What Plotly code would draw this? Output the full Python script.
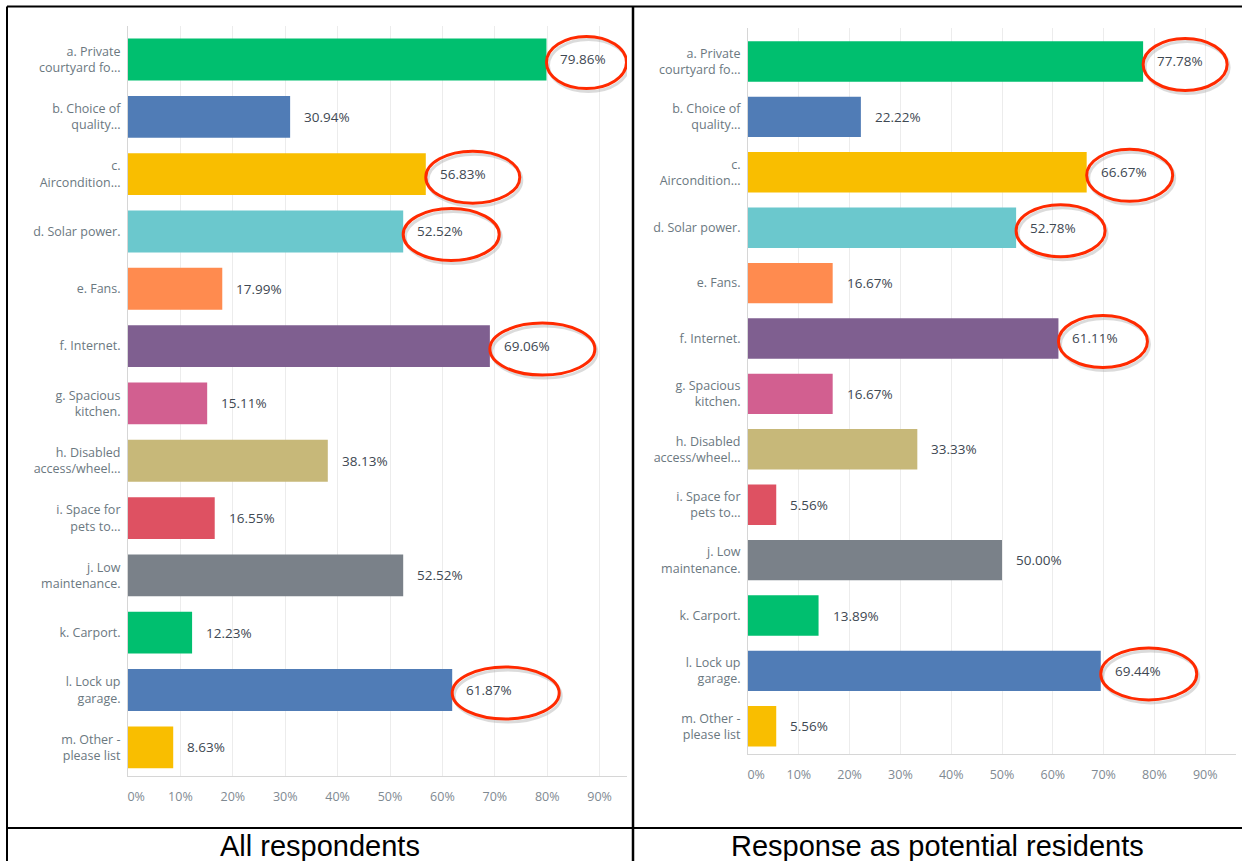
import plotly.graph_objects as go

W, H = 1242, 861

categories = [
    "a. Private<br>courtyard fo...",
    "b. Choice of<br>quality...",
    "c.<br>Aircondition...",
    "d. Solar power.",
    "e. Fans.",
    "f. Internet.",
    "g. Spacious<br>kitchen.",
    "h. Disabled<br>access/wheel...",
    "i. Space for<br>pets to...",
    "j. Low<br>maintenance.",
    "k. Carport.",
    "l. Lock up<br>garage.",
    "m. Other -<br>please list",
]
all_respondents = [79.86, 30.94, 56.83, 52.52, 17.99, 69.06, 15.11, 38.13, 16.55, 52.52, 12.23, 61.87, 8.63]
potential_residents = [77.78, 22.22, 66.67, 52.78, 16.67, 61.11, 16.67, 33.33, 5.56, 50.00, 13.89, 69.44, 5.56]
highlighted = [0, 2, 3, 5, 11]  # answers circled in red
tick_values = [0, 10, 20, 30, 40, 50, 60, 70, 80, 90]
tick_labels = ["\u00a0\u00a0\u00a0\u00a0\u00a00%", "10%", "20%", "30%", "40%", "50%", "60%", "70%", "80%", "90%"]
captions = ["All respondents", "Response as potential residents"]

bar_colors = ["#00BF6F", "#507CB6", "#F9BE00", "#6BC8CD", "#FF8B4F", "#7F5F90", "#D25F90",
              "#C7B879", "#DE5162", "#7A8189", "#00BF6F", "#507CB6", "#F9BE00"]

FONT = "Open Sans"


def px(x):
    return x / W


def py(y):
    return 1 - y / H


# panel geometry in pixels: plot left/right, top/bottom, x range max, ellipse widths
panels = [
    dict(x0=128, x1=627, y0=26, y1=776, xmax=(627 - 128) / 5.24, ell=[80, 94, 96, 105, 107],
         values=all_respondents, xa="x", ya="y", cap_x=320),
    dict(x0=748, x1=1236, y0=28, y1=754, xmax=(1236 - 748) / 5.08, ell=[84, 86, 89, 89, 96],
         values=potential_residents, xa="x2", ya="y2", cap_x=937),
]

fig = go.Figure()
shapes = []
annotations = []

for i, p in enumerate(panels):
    fig.add_trace(go.Bar(
        x=p["values"], y=categories, orientation="h",
        marker=dict(color=bar_colors, line=dict(width=0)),
        xaxis=p["xa"], yaxis=p["ya"], hoverinfo="skip", showlegend=False,
    ))
    sfx = "" if i == 0 else "2"
    fig.update_layout(**{
        "xaxis" + sfx: dict(
            domain=[px(p["x0"]), px(p["x1"])], range=[0, p["xmax"]], anchor="y" + sfx,
            showgrid=True, gridcolor="#ECECEC", gridwidth=1, zeroline=False,
            showline=True, linecolor="#D6D6D6", linewidth=1, automargin=False,
            tickvals=tick_values, ticktext=tick_labels, ticks="", ticklabelstandoff=9,
            tickfont=dict(family=FONT, size=12.5, color="#7F8A92"), fixedrange=True,
        ),
        "yaxis" + sfx: dict(
            domain=[py(p["y1"]), py(p["y0"])], anchor="x" + sfx, type="category",
            autorange="reversed", showgrid=False, zeroline=False, automargin=False,
            showline=True, linecolor="#D6D6D6", linewidth=1,
            ticks="", ticklabelstandoff=4,
            tickfont=dict(family=FONT, size=12.5, color="#6B787F"), fixedrange=True,
        ),
    })

    for cat, v in zip(categories, p["values"]):
        annotations.append(dict(
            x=v, y=cat, xref=p["xa"], yref=p["ya"], text=f"{v:.2f}%", showarrow=False,
            xanchor="left", xshift=12, font=dict(family=FONT, size=13.5, color="#3E4852"),
        ))

    for k, idx in enumerate(highlighted):
        w = p["ell"][k]
        for dx, dy, col, op in [(2, -3, "#9A9A9A", 0.35), (0, 0, "#FF2A00", 1.0)]:
            shapes.append(dict(
                type="circle", xref=p["xa"], yref=p["ya"],
                xsizemode="pixel", xanchor=p["values"][idx], x0=dx, x1=w + dx,
                ysizemode="pixel", yanchor=categories[idx], y0=-29 + dy, y1=23 + dy,
                line=dict(color=col, width=3), opacity=op, layer="above",
            ))

    annotations.append(dict(
        x=px(p["cap_x"]), y=py(846), xref="paper", yref="paper", text=captions[i],
        showarrow=False, xanchor="center", yanchor="middle",
        font=dict(family="Liberation Sans, Arial", size=29, color="#000000"),
    ))

# table borders
border = dict(color="#000000", width=2)
shapes += [
    dict(type="line", xref="paper", yref="paper", x0=px(7), x1=1, y0=py(6.5), y1=py(6.5), line=border),
    dict(type="line", xref="paper", yref="paper", x0=px(7), x1=px(7), y0=0, y1=py(6.5), line=border),
    dict(type="line", xref="paper", yref="paper", x0=px(633), x1=px(633), y0=0, y1=py(6.5),
         line=dict(color="#000000", width=2.5)),
    dict(type="line", xref="paper", yref="paper", x0=px(7), x1=1, y0=py(828), y1=py(828), line=border),
]

fig.update_layout(
    width=W, height=H, autosize=False,
    margin=dict(l=0, r=0, t=0, b=0, pad=0),
    paper_bgcolor="#FFFFFF", plot_bgcolor="#FFFFFF",
    bargap=0.27,
    shapes=shapes, annotations=annotations,
)

fig.write_html(
    "out.html",
    config={"displayModeBar": False},
    post_script="document.body.style.margin='0px'; document.body.style.overflow='hidden';",
)
